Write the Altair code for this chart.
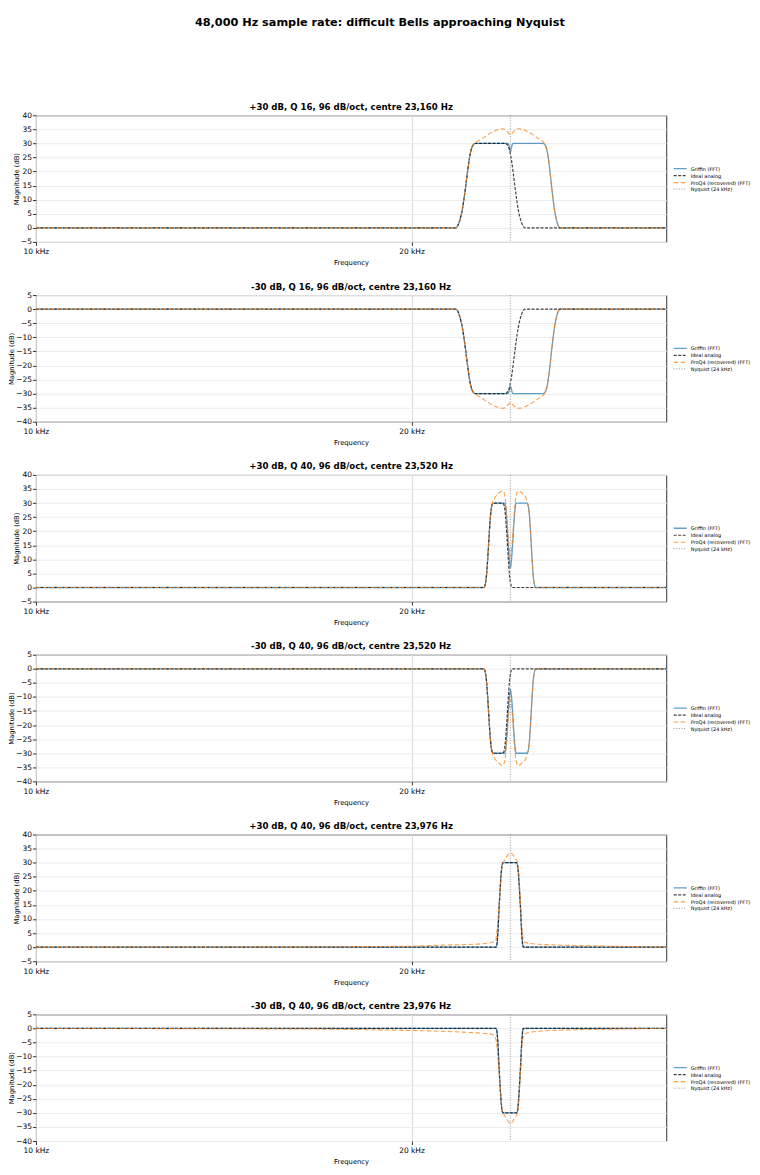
import altair as alt
import pandas as pd

SERIES = ["Griffin (FFT)", "Ideal analog", "ProQ4 (recovered) (FFT)", "Nyquist (24 kHz)"]
COLORS = ["#1f77b4", "#000000", "#ff7f0e", "#808080"]
DASHES = [[1, 0], [3, 1.5], [4.5, 2.5], [1, 1.6]]
WIDTHS = [1.3, 1.0, 0.8, 0.8]
OPACITY = [0.7, 0.8, 0.6, 0.6]

NYQUIST = 24000
X_DOMAIN = [10000, 32000]
X_TICKS = [10000, 20000]

TITLES = [
    "+30 dB, Q 16, 96 dB/oct, centre 23,160 Hz",
    "-30 dB, Q 16, 96 dB/oct, centre 23,160 Hz",
    "+30 dB, Q 40, 96 dB/oct, centre 23,520 Hz",
    "-30 dB, Q 40, 96 dB/oct, centre 23,520 Hz",
    "+30 dB, Q 40, 96 dB/oct, centre 23,976 Hz",
    "-30 dB, Q 40, 96 dB/oct, centre 23,976 Hz",
]
Y_DOMAINS = [[-5, 40], [-40, 5], [-5, 40], [-40, 5], [-5, 40], [-40, 5]]

# --- panel 1 / 2 : Q 16, centre 23,160 Hz ---
P1_IDEAL_F = [10000, 21698, 21764, 21831, 21898, 21965, 22032, 22100, 22168, 22236, 22304, 22373, 22441, 22510,
              23790, 23840, 23913, 23986, 24059, 24132, 24205, 24279, 24353, 24428, 24503, 24578, 24654, 32000]
P1_IDEAL_DB = [0, 0, 0.5, 1.8, 3.8, 6.5, 10.3, 14.6, 19.3, 23.6, 26.9, 28.9, 29.7, 30,
               30, 29.7, 28.9, 26.9, 23.6, 19.3, 14.6, 10.3, 6.5, 3.8, 1.8, 0.5, 0, 0]
P1_GRIFFIN_F = [10000, 21698, 21764, 21831, 21898, 21965, 22032, 22100, 22168, 22236, 22304, 22373, 22441, 22510,
                23880, 23930, 23965, 24005, 24045, 24080, 24130,
                25490, 25559, 25627, 25696, 25764, 25832, 25900, 25968, 26035, 26102, 26169, 26236, 26302, 32000]
P1_GRIFFIN_DB = [0, 0, 0.5, 1.8, 3.8, 6.5, 10.3, 14.6, 19.3, 23.6, 26.9, 28.9, 29.7, 30,
                 30, 29.5, 28.3, 27.0, 28.3, 29.5, 30,
                 30, 29.7, 28.9, 26.9, 23.6, 19.3, 14.6, 10.3, 6.5, 3.8, 1.8, 0.5, 0, 0]
P1_PROQ_F = [10000, 21698, 21764, 21831, 21898, 21965, 22032, 22100, 22168, 22236, 22304, 22373, 22441, 22510,
             22648, 22787, 22927, 23068, 23210, 23353, 23496, 23641, 23757, 23859, 23932, 24005, 24079, 24153,
             24257, 24376, 24526, 24677, 24828, 24981, 25134, 25289, 25444,
             25522, 25559, 25627, 25696, 25764, 25832, 25900, 25968, 26035, 26102, 26169, 26236, 26302, 32000]
P1_PROQ_DB = [0, 0, 0.5, 1.8, 3.8, 6.5, 10.3, 14.6, 19.3, 23.6, 26.9, 28.9, 29.9, 30.4,
              31.0, 31.7, 32.5, 33.3, 34.0, 34.6, 35.0, 35.2, 35.0, 34.3, 33.6, 33.0, 33.6, 34.3,
              35.0, 35.2, 35.0, 34.6, 34.0, 33.3, 32.5, 31.7, 31.0,
              30.4, 29.9, 28.9, 26.9, 23.6, 19.3, 14.6, 10.3, 6.5, 3.8, 1.8, 0.5, 0, 0]

P2_IDEAL_DB = [0, 0, -0.5, -1.8, -3.8, -6.5, -10.3, -14.6, -19.3, -23.6, -26.9, -28.9, -29.7, -30,
               -30, -29.7, -28.9, -26.9, -23.6, -19.3, -14.6, -10.3, -6.5, -3.8, -1.8, -0.5, 0, 0]
P2_GRIFFIN_DB = [0, 0, -0.5, -1.8, -3.8, -6.5, -10.3, -14.6, -19.3, -23.6, -26.9, -28.9, -29.7, -30,
                 -30, -29.5, -28.4, -27.4, -28.4, -29.5, -30,
                 -30, -29.7, -28.9, -26.9, -23.6, -19.3, -14.6, -10.3, -6.5, -3.8, -1.8, -0.5, 0, 0]
P2_PROQ_DB = [0, 0, -0.5, -1.8, -3.8, -6.5, -10.3, -14.6, -19.3, -23.6, -26.9, -28.9, -29.9, -30.4,
              -31.0, -31.7, -32.5, -33.3, -34.0, -34.6, -35.0, -35.2, -35.0, -34.3, -33.6, -33.2, -33.6, -34.3,
              -35.0, -35.2, -35.0, -34.6, -34.0, -33.3, -32.5, -31.7, -31.0,
              -30.4, -29.9, -28.9, -26.9, -23.6, -19.3, -14.6, -10.3, -6.5, -3.8, -1.8, -0.5, 0, 0]

# --- panel 3 / 4 : Q 40, centre 23,520 Hz ---
P3_IDEAL_F = [10000, 22857, 22885, 22927, 22969, 22997, 23040, 23068, 23110, 23139, 23181, 23210, 23281,
              23640, 23713, 23742, 23785, 23814, 23858, 23888, 23931, 23961, 24005, 24049, 24079, 32000]
P3_IDEAL_DB = [0, 0, 0.3, 1.8, 4.5, 7.6, 13.0, 17.0, 22.5, 25.5, 28.5, 29.5, 30,
               30, 29.5, 28.5, 25.5, 22.5, 17.0, 13.0, 7.6, 4.5, 1.8, 0.3, 0, 0]
P3_GRIFFIN_F = [10000, 22857, 22885, 22927, 22969, 22997, 23040, 23068, 23110, 23139, 23181, 23210, 23281,
                23756, 23814, 23858, 23902, 23946, 23975, 24005, 24034, 24064, 24108, 24152, 24197, 24256,
                24721, 24790, 24819, 24861, 24890, 24932, 24961, 25003, 25031, 25073, 25115, 25143, 32000]
P3_GRIFFIN_DB = [0, 0, 0.3, 1.8, 4.5, 7.6, 13.0, 17.0, 22.5, 25.5, 28.5, 29.5, 30,
                 30, 27, 22, 16, 11, 8.5, 7, 8.5, 11, 16, 22, 27, 30,
                 30, 29.5, 28.5, 25.5, 22.5, 17.0, 13.0, 7.6, 4.5, 1.8, 0.3, 0, 0]
P3_PROQ_F = [10000, 22857, 22885, 22927, 22969, 22997, 23040, 23068, 23110, 23139, 23181, 23210,
             23238, 23281, 23352, 23424, 23496, 23568, 23640, 23684, 23727,
             23785, 23829, 23873, 23917, 23961, 24005, 24049, 24093, 24137, 24182, 24226,
             24286, 24331, 24375, 24450, 24525, 24600, 24675, 24721, 24751,
             24790, 24819, 24861, 24890, 24932, 24961, 25003, 25031, 25073, 25115, 25143, 32000]
P3_PROQ_DB = [0, 0, 0.3, 1.8, 4.5, 7.6, 13.0, 17.0, 22.5, 25.5, 28.5, 29.6,
              30.5, 31.3, 32.3, 32.9, 33.5, 34.0, 34.3, 34.2, 33.5,
              31.0, 27.0, 22.0, 17.0, 13.0, 11.0, 13.0, 17.0, 22.0, 27.0, 31.0,
              33.5, 34.2, 34.3, 34.0, 33.5, 32.9, 32.3, 31.3, 30.5,
              29.6, 28.5, 25.5, 22.5, 17.0, 13.0, 7.6, 4.5, 1.8, 0.3, 0, 0]

P4_IDEAL_DB = [0, 0, -0.3, -1.8, -4.5, -7.6, -13.0, -17.0, -22.5, -25.5, -28.5, -29.5, -30,
               -30, -29.5, -28.5, -25.5, -22.5, -17.0, -13.0, -7.6, -4.5, -1.8, -0.3, 0, 0]
P4_GRIFFIN_DB = [0, 0, -0.3, -1.8, -4.5, -7.6, -13.0, -17.0, -22.5, -25.5, -28.5, -29.5, -30,
                 -30, -27, -22, -16, -11, -8.8, -7.3, -8.8, -11, -16, -22, -27, -30,
                 -30, -29.5, -28.5, -25.5, -22.5, -17.0, -13.0, -7.6, -4.5, -1.8, -0.3, 0, 0]
P4_PROQ_DB = [0, 0, -0.3, -1.8, -4.5, -7.6, -13.0, -17.0, -22.5, -25.5, -28.5, -29.6,
              -30.5, -31.3, -32.3, -32.9, -33.5, -34.0, -34.4, -34.3, -33.5,
              -31.0, -27.0, -22.0, -17.0, -13.0, -11.0, -13.0, -17.0, -22.0, -27.0, -31.0,
              -33.5, -34.3, -34.4, -34.0, -33.5, -32.9, -32.3, -31.3, -30.5,
              -29.6, -28.5, -25.5, -22.5, -17.0, -13.0, -7.6, -4.5, -1.8, -0.3, 0, 0]

# --- panel 5 / 6 : Q 40, centre 23,976 Hz ---
P5_IDEAL_F = [10000, 23381, 23424, 23467, 23496, 23539, 23568, 23611, 23640, 23684,
              24271, 24316, 24345, 24390, 24420, 24465, 24495, 24540, 24585, 32000]
P5_IDEAL_DB = [0, 0, 1.8, 7.1, 12.3, 18.7, 22.8, 27.5, 29.3, 30,
               30, 29.3, 27.5, 22.8, 18.7, 12.3, 7.1, 1.8, 0, 0]
P5_GRIFFIN_DB = [0, 0, 1.8, 7.1, 12.3, 18.7, 22.8, 27.5, 29.3, 30,
                 30, 29.3, 27.5, 22.8, 18.7, 12.3, 7.1, 1.8, 0, 0]
P5_PROQ_F = [10000, 16273, 19796, 21044, 22372, 23068, 23355,
             23424, 23496, 23568, 23640, 23713, 23785, 23858, 23931, 24005, 24079, 24152, 24226, 24301,
             24375, 24450, 24525, 24600, 24675, 25289, 26884, 28584, 31914, 32000]
P5_PROQ_DB = [0, 0.1, 0.3, 0.7, 1.0, 1.5, 2.2,
              6.5, 14.1, 21.7, 28.7, 30.4, 31.5, 32.4, 33.1, 33.3, 33.1, 32.4, 31.5, 30.4,
              26.3, 16.4, 6.5, 2.0, 1.6, 1.0, 0.6, 0.35, 0.1, 0.1]

P6_IDEAL_DB = [0, 0, -1.8, -7.1, -12.3, -18.7, -22.8, -27.5, -29.3, -30,
               -30, -29.3, -27.5, -22.8, -18.7, -12.3, -7.1, -1.8, 0, 0]
P6_GRIFFIN_DB = [0, 0, -1.8, -7.1, -12.3, -18.7, -22.8, -27.5, -29.3, -30,
                 -30, -29.3, -27.5, -22.8, -18.7, -12.3, -7.1, -1.8, 0, 0]
P6_PROQ_F = [10000, 16273, 19796, 21044, 22372, 23068, 23210, 23352,
             23424, 23496, 23568, 23640, 23713, 23785, 23858, 23931, 24005, 24079, 24152, 24226, 24301,
             24375, 24450, 24525, 24600, 24675, 25289, 26884, 28584, 31914, 32000]
P6_PROQ_DB = [0, -0.2, -0.7, -1.0, -1.5, -1.9, -2.1, -3.4,
              -7.0, -14.5, -22.0, -28.7, -30.4, -31.4, -32.4, -33.3, -33.8, -33.3, -32.4, -31.4, -30.4,
              -26.0, -16.0, -6.0, -2.6, -1.8, -1.0, -0.5, -0.3, 0, 0]

CURVES = [
    [(P1_GRIFFIN_F, P1_GRIFFIN_DB), (P1_IDEAL_F, P1_IDEAL_DB), (P1_PROQ_F, P1_PROQ_DB)],
    [(P1_GRIFFIN_F, P2_GRIFFIN_DB), (P1_IDEAL_F, P2_IDEAL_DB), (P1_PROQ_F, P2_PROQ_DB)],
    [(P3_GRIFFIN_F, P3_GRIFFIN_DB), (P3_IDEAL_F, P3_IDEAL_DB), (P3_PROQ_F, P3_PROQ_DB)],
    [(P3_GRIFFIN_F, P4_GRIFFIN_DB), (P3_IDEAL_F, P4_IDEAL_DB), (P3_PROQ_F, P4_PROQ_DB)],
    [(P5_IDEAL_F, P5_GRIFFIN_DB), (P5_IDEAL_F, P5_IDEAL_DB), (P5_PROQ_F, P5_PROQ_DB)],
    [(P5_IDEAL_F, P6_GRIFFIN_DB), (P5_IDEAL_F, P6_IDEAL_DB), (P6_PROQ_F, P6_PROQ_DB)],
]

PLOT_W = 632
PLOT_H = 127


def make_panel(title, ydom, curves):
    # short legend rows: a small symbol size with a long line path
    legend = alt.Legend(
        title=None, orient="none", legendX=636, legendY=50,
        labelFontSize=5, symbolType="M0,0H5.2", symbolSize=25,
        rowPadding=0, labelOffset=13.5, padding=0,
    )
    x = alt.X(
        "freq:Q",
        scale=alt.Scale(type="log", domain=X_DOMAIN, nice=False),
        axis=alt.Axis(
            values=X_TICKS, title="Frequency", labelFlush=False,
            labelPadding=2.5, titlePadding=4.5,
            labelExpr="format(datum.value / 1000, 'd') + ' kHz'",
            gridColor="#dadada",
        ),
    )
    y = alt.Y(
        "db:Q",
        scale=alt.Scale(domain=ydom, nice=False, zero=False),
        axis=alt.Axis(
            values=list(range(ydom[0], ydom[1] + 1, 5)), title="Magnitude (dB)",
            labelFlush=False, gridColor="#ececec", labelPadding=1, titlePadding=1,
            labelExpr="replace(format(datum.value, 'd'), '-', '\u2212')",
        ),
    )
    enc = dict(
        color=alt.Color("series:N", scale=alt.Scale(domain=SERIES, range=COLORS), legend=legend),
        strokeDash=alt.StrokeDash("series:N", scale=alt.Scale(domain=SERIES, range=DASHES), legend=legend),
        strokeWidth=alt.StrokeWidth("series:N", scale=alt.Scale(domain=SERIES, range=WIDTHS), legend=legend),
        opacity=alt.Opacity("series:N", scale=alt.Scale(domain=SERIES, range=OPACITY), legend=legend),
    )

    layers = []
    for name, (f, db) in zip(SERIES, curves):
        d = pd.DataFrame({"freq": f, "db": db, "series": name})
        layers.append(
            alt.Chart(d).mark_line(clip=True, interpolate="monotone").encode(x=x, y=y, **enc)
        )
    nyq = pd.DataFrame({"freq": [NYQUIST], "series": [SERIES[3]]})
    layers.append(alt.Chart(nyq).mark_rule().encode(x=x, **enc))

    return alt.layer(*layers).properties(
        width=PLOT_W, height=PLOT_H,
        title=alt.TitleParams(title, fontSize=8.6, fontWeight="bold", offset=0, frame="group"),
    )


panels = [make_panel(t, yd, c) for t, yd, c in zip(TITLES, Y_DOMAINS, CURVES)]

chart = (
    alt.vconcat(*panels, spacing=13.3)
    .resolve_scale(color="independent", strokeDash="independent",
                   strokeWidth="independent", opacity="independent")
    .properties(
        title=alt.TitleParams(
            "48,000 Hz sample rate: difficult Bells approaching Nyquist",
            fontSize=11.3, fontWeight="bold", offset=74.5, anchor="middle",
        ),
        padding={"left": 0, "top": 7, "right": 0, "bottom": 0},
    )
    .configure(font="DejaVu Sans")
    .configure_view(stroke="#333333", strokeWidth=1)
    .configure_axis(
        labelFontSize=7.5, titleFontSize=6.8, titleFontWeight="normal",
        labelColor="#000000", titleColor="#000000", tickColor="#333333",
        tickSize=3.5, labelPadding=1.5, titlePadding=2, domain=False,
    )
    .configure_title(color="#000000")
)

chart.save("out.html", embed_options={"renderer": "svg", "actions": False})
